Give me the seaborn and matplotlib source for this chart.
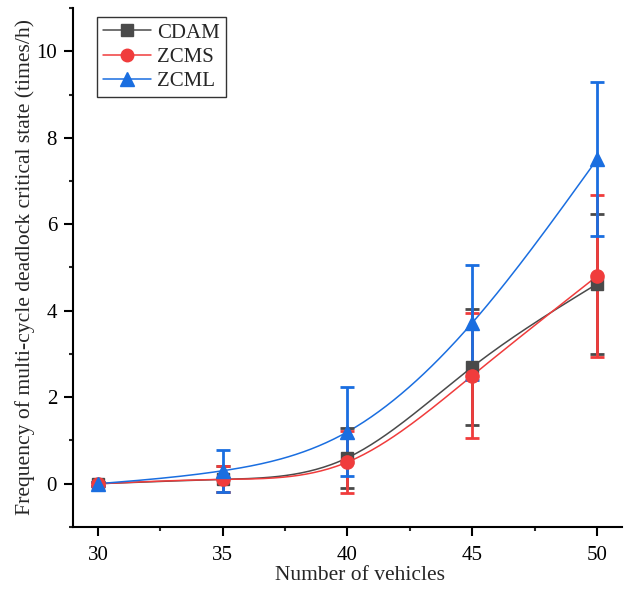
import numpy as np
import pandas as pd
import matplotlib
matplotlib.use("Agg")
import matplotlib.pyplot as plt
import seaborn as sns
from matplotlib.ticker import MultipleLocator

vehicles = [30, 35, 40, 45, 50]
cdam = [0.0, 0.1, 0.6, 2.7, 4.62]
cdam_err = [0.05, 0.3, 0.7, 1.34, 1.62]
zcms = [0.0, 0.1, 0.5, 2.5, 4.8]
zcms_err = [0.05, 0.3, 0.72, 1.44, 1.87]
zcml = [0.0, 0.3, 1.2, 3.72, 7.5]
zcml_err = [0.05, 0.48, 1.03, 1.33, 1.78]

series = ["CDAM", "ZCMS", "ZCML"]
colors = {"CDAM": "#4a4a4a", "ZCMS": "#f03c3c", "ZCML": "#1a6ee0"}
markers = {"CDAM": "s", "ZCMS": "o", "ZCML": "^"}
msizes = {"CDAM": 8.5, "ZCMS": 9.5, "ZCML": 10}

sns.set_style("ticks")
plt.rcParams["font.family"] = ["Liberation Serif", "DejaVu Serif"]
plt.rcParams["mathtext.fontset"] = "stix"


def natural_spline(x, y, n=200):
    x = np.asarray(x, float)
    y = np.asarray(y, float)
    k = len(x)
    h = np.diff(x)
    A = np.zeros((k, k))
    b = np.zeros(k)
    A[0, 0] = 1
    A[-1, -1] = 1
    for i in range(1, k - 1):
        A[i, i - 1] = h[i - 1]
        A[i, i] = 2 * (h[i - 1] + h[i])
        A[i, i + 1] = h[i]
        b[i] = 3 * ((y[i + 1] - y[i]) / h[i] - (y[i] - y[i - 1]) / h[i - 1])
    c = np.linalg.solve(A, b)
    xs = np.linspace(x[0], x[-1], n)
    ys = np.empty_like(xs)
    for j, xv in enumerate(xs):
        i = min(np.searchsorted(x, xv, side="right") - 1, k - 2)
        dx = xv - x[i]
        bi = (y[i + 1] - y[i]) / h[i] - h[i] * (2 * c[i] + c[i + 1]) / 3
        di = (c[i + 1] - c[i]) / (3 * h[i])
        ys[j] = y[i] + bi * dx + c[i] * dx ** 2 + di * dx ** 3
    return xs, ys


values = {"CDAM": (cdam, cdam_err), "ZCMS": (zcms, zcms_err), "ZCML": (zcml, zcml_err)}

fig = plt.figure(figsize=(6.27, 5.89), dpi=100)
ax = fig.add_axes([0.1164, 0.1053, 0.8756, 0.8811])

handles = []
for name in series:
    vals, errs = values[name]
    xs, ys = natural_spline(vehicles, vals)
    df = pd.DataFrame({"x": xs, "y": ys})
    sns.lineplot(data=df, x="x", y="y", ax=ax, color=colors[name], lw=1.1, zorder=2)
    ax.errorbar(vehicles, vals, yerr=errs, fmt="none", ecolor=colors[name],
                elinewidth=2, capsize=5, capthick=2, zorder=3)
    ax.plot(vehicles, vals, linestyle="none", marker=markers[name],
            ms=msizes[name], color=colors[name], zorder=4)
    h, = ax.plot([], [], color=colors[name], lw=1.1, marker=markers[name],
                 ms=msizes[name] - 0.5)
    handles.append(h)

ax.set_xlim(29, 51)
ax.set_ylim(-1, 11)
ax.xaxis.set_major_locator(MultipleLocator(5))
ax.xaxis.set_minor_locator(MultipleLocator(2.5))
ax.yaxis.set_major_locator(MultipleLocator(2))
ax.yaxis.set_minor_locator(MultipleLocator(1))
ax.tick_params(axis="both", which="major", direction="out", length=6.5, width=1.5,
               labelsize=15, colors="black", pad=5)
ax.tick_params(axis="x", which="major", pad=7)
ax.tick_params(axis="both", which="minor", direction="out", length=3, width=1.5)
for s in ["top", "right"]:
    ax.spines[s].set_visible(False)
for s in ["left", "bottom"]:
    ax.spines[s].set_linewidth(1.5)
    ax.spines[s].set_color("black")

ax.set_xlabel("Number of vehicles", fontsize=15.5)
ax.xaxis.set_label_coords(0.523, -0.076)
ax.set_ylabel("Frequency of multi-cycle deadlock critical state (times/h)", fontsize=15.6, labelpad=1)

leg = ax.legend(handles, series, loc="upper left", bbox_to_anchor=(0.032, 0.995),
                fontsize=15, frameon=True, fancybox=False, edgecolor="black",
                handlelength=2.3, handletextpad=0.3, borderpad=0.3, labelspacing=0.22,
                borderaxespad=0.3)
leg.get_frame().set_linewidth(1.0)

fig.savefig("out.png", dpi=100)
